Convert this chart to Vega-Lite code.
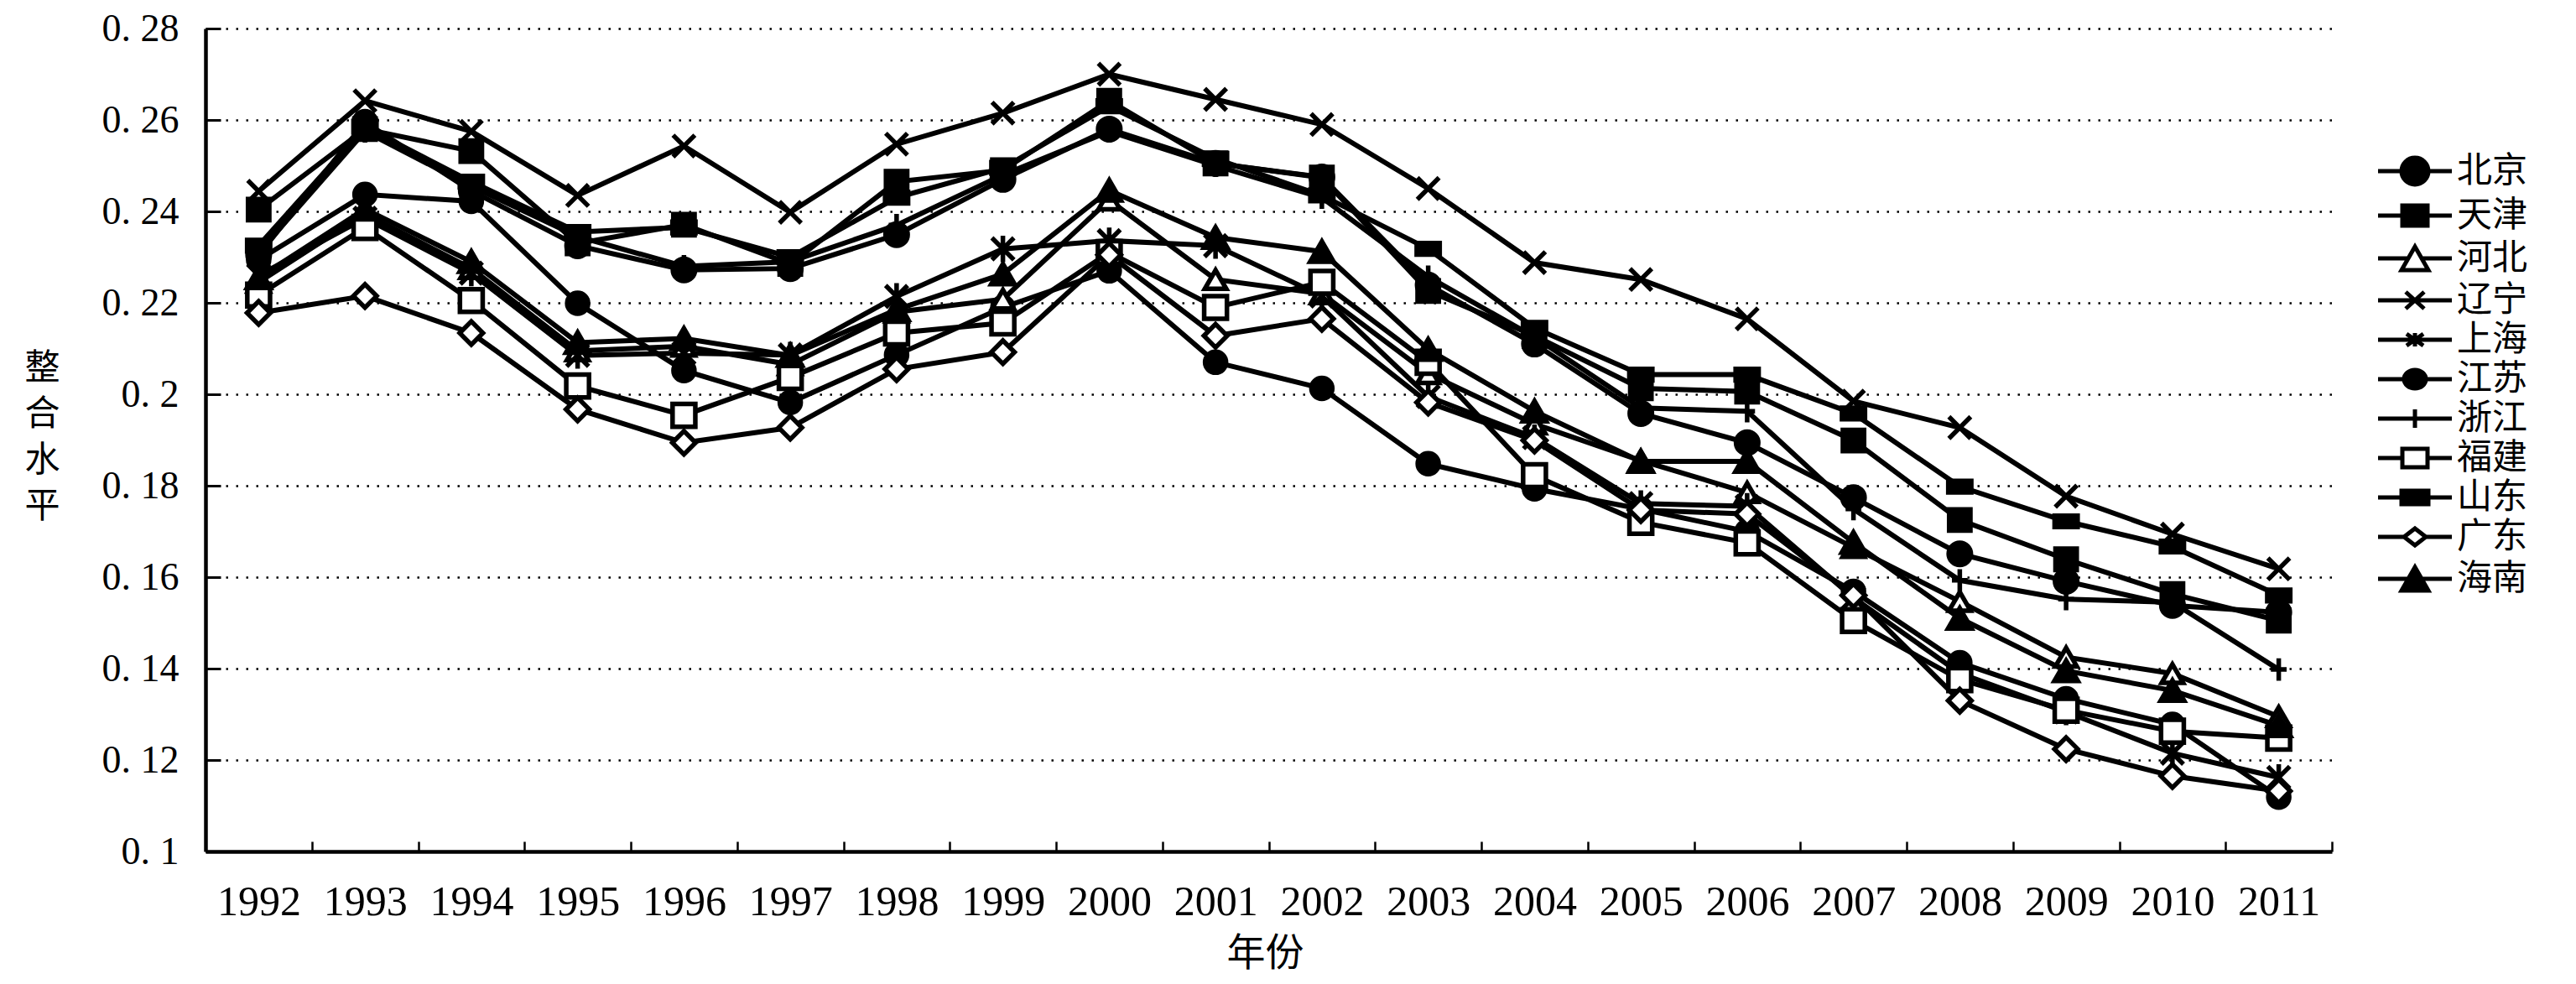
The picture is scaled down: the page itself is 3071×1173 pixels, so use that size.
{
"$schema": "https://vega.github.io/schema/vega-lite/v6.json",
"width": 2535, "height": 981,
"autosize": "none",
"padding": {"left": 245, "top": 34, "right": 291, "bottom": 158},
"background": "white",
"config": {"view": {"stroke": null}},
"datasets": {"d": [
{"p":"北京","y":1992,"v":0.2294},{"p":"北京","y":1993,"v":0.2437},{"p":"北京","y":1994,"v":0.2422},{"p":"北京","y":1995,"v":0.2199},{"p":"北京","y":1996,"v":0.2052},{"p":"北京","y":1997,"v":0.1982},{"p":"北京","y":1998,"v":0.2086},{"p":"北京","y":1999,"v":0.219},{"p":"北京","y":2000,"v":0.227},{"p":"北京","y":2001,"v":0.207},{"p":"北京","y":2002,"v":0.2013},{"p":"北京","y":2003,"v":0.1848},{"p":"北京","y":2004,"v":0.1793},{"p":"北京","y":2005,"v":0.1749},{"p":"北京","y":2006,"v":0.170},{"p":"北京","y":2007,"v":0.1569},{"p":"北京","y":2008,"v":0.1413},{"p":"北京","y":2009,"v":0.1334},{"p":"北京","y":2010,"v":0.1278},{"p":"北京","y":2011,"v":0.1119},
{"p":"天津","y":1992,"v":0.2404},{"p":"天津","y":1993,"v":0.258},{"p":"天津","y":1994,"v":0.2532},{"p":"天津","y":1995,"v":0.233},{"p":"天津","y":1996,"v":0.2371},{"p":"天津","y":1997,"v":0.2285},{"p":"天津","y":1998,"v":0.2465},{"p":"天津","y":1999,"v":0.249},{"p":"天津","y":2000,"v":0.2642},{"p":"天津","y":2001,"v":0.2505},{"p":"天津","y":2002,"v":0.2474},{"p":"天津","y":2003,"v":0.2226},{"p":"天津","y":2004,"v":0.2128},{"p":"天津","y":2005,"v":0.2013},{"p":"天津","y":2006,"v":0.2006},{"p":"天津","y":2007,"v":0.1899},{"p":"天津","y":2008,"v":0.1725},{"p":"天津","y":2009,"v":0.1639},{"p":"天津","y":2010,"v":0.1563},{"p":"天津","y":2011,"v":0.1505},
{"p":"河北","y":1992,"v":0.2245},{"p":"河北","y":1993,"v":0.2395},{"p":"河北","y":1994,"v":0.2275},{"p":"河北","y":1995,"v":0.2095},{"p":"河北","y":1996,"v":0.2105},{"p":"河北","y":1997,"v":0.2065},{"p":"河北","y":1998,"v":0.218},{"p":"河北","y":1999,"v":0.2208},{"p":"河北","y":2000,"v":0.2425},{"p":"河北","y":2001,"v":0.2251},{"p":"河北","y":2002,"v":0.222},{"p":"河北","y":2003,"v":0.2045},{"p":"河北","y":2004,"v":0.1935},{"p":"河北","y":2005,"v":0.1855},{"p":"河北","y":2006,"v":0.1785},{"p":"河北","y":2007,"v":0.1665},{"p":"河北","y":2008,"v":0.1547},{"p":"河北","y":2009,"v":0.1425},{"p":"河北","y":2010,"v":0.1389},{"p":"河北","y":2011,"v":0.1295},
{"p":"辽宁","y":1992,"v":0.2444},{"p":"辽宁","y":1993,"v":0.2642},{"p":"辽宁","y":1994,"v":0.2575},{"p":"辽宁","y":1995,"v":0.2435},{"p":"辽宁","y":1996,"v":0.2543},{"p":"辽宁","y":1997,"v":0.2398},{"p":"辽宁","y":1998,"v":0.2547},{"p":"辽宁","y":1999,"v":0.2615},{"p":"辽宁","y":2000,"v":0.27},{"p":"辽宁","y":2001,"v":0.2645},{"p":"辽宁","y":2002,"v":0.259},{"p":"辽宁","y":2003,"v":0.245},{"p":"辽宁","y":2004,"v":0.2288},{"p":"辽宁","y":2005,"v":0.2251},{"p":"辽宁","y":2006,"v":0.2165},{"p":"辽宁","y":2007,"v":0.1985},{"p":"辽宁","y":2008,"v":0.1927},{"p":"辽宁","y":2009,"v":0.1777},{"p":"辽宁","y":2010,"v":0.1694},{"p":"辽宁","y":2011,"v":0.1618},
{"p":"上海","y":1992,"v":0.226},{"p":"上海","y":1993,"v":0.2385},{"p":"上海","y":1994,"v":0.2265},{"p":"上海","y":1995,"v":0.2085},{"p":"上海","y":1996,"v":0.209},{"p":"上海","y":1997,"v":0.2086},{"p":"上海","y":1998,"v":0.2214},{"p":"上海","y":1999,"v":0.2318},{"p":"上海","y":2000,"v":0.2336},{"p":"上海","y":2001,"v":0.2325},{"p":"上海","y":2002,"v":0.2215},{"p":"上海","y":2003,"v":0.1995},{"p":"上海","y":2004,"v":0.1905},{"p":"上海","y":2005,"v":0.1761},{"p":"上海","y":2006,"v":0.1755},{"p":"上海","y":2007,"v":0.1555},{"p":"上海","y":2008,"v":0.139},{"p":"上海","y":2009,"v":0.1305},{"p":"上海","y":2010,"v":0.1215},{"p":"上海","y":2011,"v":0.1162},
{"p":"江苏","y":1992,"v":0.2305},{"p":"江苏","y":1993,"v":0.2595},{"p":"江苏","y":1994,"v":0.2445},{"p":"江苏","y":1995,"v":0.2325},{"p":"江苏","y":1996,"v":0.2272},{"p":"江苏","y":1997,"v":0.2275},{"p":"江苏","y":1998,"v":0.2349},{"p":"江苏","y":1999,"v":0.247},{"p":"江苏","y":2000,"v":0.258},{"p":"江苏","y":2001,"v":0.2505},{"p":"江苏","y":2002,"v":0.2475},{"p":"江苏","y":2003,"v":0.2239},{"p":"江苏","y":2004,"v":0.211},{"p":"江苏","y":2005,"v":0.1958},{"p":"江苏","y":2006,"v":0.1894},{"p":"江苏","y":2007,"v":0.1774},{"p":"江苏","y":2008,"v":0.1651},{"p":"江苏","y":2009,"v":0.1591},{"p":"江苏","y":2010,"v":0.1538},{"p":"江苏","y":2011,"v":0.1523},
{"p":"浙江","y":1992,"v":0.231},{"p":"浙江","y":1993,"v":0.2575},{"p":"浙江","y":1994,"v":0.2455},{"p":"浙江","y":1995,"v":0.2345},{"p":"浙江","y":1996,"v":0.228},{"p":"浙江","y":1997,"v":0.229},{"p":"浙江","y":1998,"v":0.237},{"p":"浙江","y":1999,"v":0.248},{"p":"浙江","y":2000,"v":0.2575},{"p":"浙江","y":2001,"v":0.25},{"p":"浙江","y":2002,"v":0.243},{"p":"浙江","y":2003,"v":0.2257},{"p":"浙江","y":2004,"v":0.2125},{"p":"浙江","y":2005,"v":0.197},{"p":"浙江","y":2006,"v":0.1963},{"p":"浙江","y":2007,"v":0.1749},{"p":"浙江","y":2008,"v":0.1593},{"p":"浙江","y":2009,"v":0.1552},{"p":"浙江","y":2010,"v":0.1545},{"p":"浙江","y":2011,"v":0.1398},
{"p":"福建","y":1992,"v":0.2217},{"p":"福建","y":1993,"v":0.2365},{"p":"福建","y":1994,"v":0.2205},{"p":"福建","y":1995,"v":0.2018},{"p":"福建","y":1996,"v":0.1954},{"p":"福建","y":1997,"v":0.2037},{"p":"福建","y":1998,"v":0.2134},{"p":"福建","y":1999,"v":0.2156},{"p":"福建","y":2000,"v":0.231},{"p":"福建","y":2001,"v":0.219},{"p":"福建","y":2002,"v":0.2245},{"p":"福建","y":2003,"v":0.207},{"p":"福建","y":2004,"v":0.1822},{"p":"福建","y":2005,"v":0.172},{"p":"福建","y":2006,"v":0.1675},{"p":"福建","y":2007,"v":0.1505},{"p":"福建","y":2008,"v":0.1376},{"p":"福建","y":2009,"v":0.1309},{"p":"福建","y":2010,"v":0.1263},{"p":"福建","y":2011,"v":0.1248},
{"p":"山东","y":1992,"v":0.2325},{"p":"山东","y":1993,"v":0.2585},{"p":"山东","y":1994,"v":0.2465},{"p":"山东","y":1995,"v":0.2355},{"p":"山东","y":1996,"v":0.2365},{"p":"山东","y":1997,"v":0.23},{"p":"山东","y":1998,"v":0.243},{"p":"山东","y":1999,"v":0.2495},{"p":"山东","y":2000,"v":0.263},{"p":"山东","y":2001,"v":0.2515},{"p":"山东","y":2002,"v":0.2435},{"p":"山东","y":2003,"v":0.2318},{"p":"山东","y":2004,"v":0.2145},{"p":"山东","y":2005,"v":0.2043},{"p":"山东","y":2006,"v":0.2043},{"p":"山东","y":2007,"v":0.1958},{"p":"山东","y":2008,"v":0.1798},{"p":"山东","y":2009,"v":0.1722},{"p":"山东","y":2010,"v":0.1667},{"p":"山东","y":2011,"v":0.156},
{"p":"广东","y":1992,"v":0.2178},{"p":"广东","y":1993,"v":0.2215},{"p":"广东","y":1994,"v":0.2134},{"p":"广东","y":1995,"v":0.1967},{"p":"广东","y":1996,"v":0.1894},{"p":"广东","y":1997,"v":0.1927},{"p":"广东","y":1998,"v":0.2055},{"p":"广东","y":1999,"v":0.2092},{"p":"广东","y":2000,"v":0.2305},{"p":"广东","y":2001,"v":0.2128},{"p":"广东","y":2002,"v":0.2165},{"p":"广东","y":2003,"v":0.1982},{"p":"广东","y":2004,"v":0.1899},{"p":"广东","y":2005,"v":0.1747},{"p":"广东","y":2006,"v":0.1738},{"p":"广东","y":2007,"v":0.156},{"p":"广东","y":2008,"v":0.133},{"p":"广东","y":2009,"v":0.1224},{"p":"广东","y":2010,"v":0.1165},{"p":"广东","y":2011,"v":0.1132},
{"p":"海南","y":1992,"v":0.2255},{"p":"海南","y":1993,"v":0.2405},{"p":"海南","y":1994,"v":0.229},{"p":"海南","y":1995,"v":0.2113},{"p":"海南","y":1996,"v":0.2122},{"p":"海南","y":1997,"v":0.2085},{"p":"海南","y":1998,"v":0.2185},{"p":"海南","y":1999,"v":0.2263},{"p":"海南","y":2000,"v":0.2446},{"p":"海南","y":2001,"v":0.2343},{"p":"海南","y":2002,"v":0.2312},{"p":"海南","y":2003,"v":0.2098},{"p":"海南","y":2004,"v":0.1963},{"p":"海南","y":2005,"v":0.1853},{"p":"海南","y":2006,"v":0.1853},{"p":"海南","y":2007,"v":0.1676},{"p":"海南","y":2008,"v":0.151},{"p":"海南","y":2009,"v":0.1395},{"p":"海南","y":2010,"v":0.1352},{"p":"海南","y":2011,"v":0.1275}
]},
"data": {"name": "d"},
"encoding": {
  "x": {"field": "y", "type": "ordinal", "scale": {"type": "point", "padding": 0.5},
    "axis": {"labelAngle": 0, "labelFont": "Liberation Serif", "labelFontSize": 50, "labelColor": "black", "labelPadding": 47,
      "tickSize": -12, "tickWidth": 2.5, "tickColor": "black", "tickOffset": 63.375, "labelOffset": -63.375,
      "domainColor": "black", "domainWidth": 4.5, "grid": false,
      "title": "年份", "titleFont": "Noto Sans CJK SC", "titleFontSize": 46, "titleFontWeight": "normal", "titleColor": "black",
      "titleX": 1263, "titleY": 121, "titleAlign": "center", "titleBaseline": "middle"}},
  "y": {"field": "v", "type": "quantitative", "scale": {"domain": [0.1, 0.28], "nice": false, "zero": false},
    "axis": {"values": [0.1, 0.12, 0.14, 0.16, 0.18, 0.2, 0.22, 0.24, 0.26, 0.28],
      "labelExpr": "replace(format(datum.value, '.2~f'), '.', '. ')",
      "labelFont": "Liberation Serif", "labelFontSize": 46, "labelColor": "black", "labelPadding": 50,
      "tickSize": -18, "tickWidth": 3, "tickColor": "black", "domainColor": "black", "domainWidth": 4.5,
      "grid": true, "gridColor": "black", "gridWidth": 2.5, "gridDash": [2.5, 9.5],
      "title": ["整", "合", "水", "平"], "titleAngle": 0, "titleFont": "Noto Sans CJK SC", "titleFontSize": 42,
      "titleFontWeight": "normal", "titleColor": "black", "titleLineHeight": 55,
      "titleX": -195, "titleY": 384, "titleAlign": "center", "titleBaseline": "top"}}
},
"resolve": {"scale": {"shape": "independent", "fill": "independent", "size": "independent", "stroke": "independent"}},
"layer": [
  {"mark": {"type": "line", "color": "black", "strokeWidth": 6},
   "encoding": {"detail": {"field": "p"}}},
  {"mark": {"type": "point", "filled": true, "stroke": "black", "strokeWidth": 5.5, "opacity": 1},
   "encoding": {
     "fill": {"field": "p", "type": "nominal",
       "scale": {"domain": ["海南","广东","山东","福建","浙江","江苏","上海","辽宁","河北","天津","北京"],
         "range": ["black","white","black","white","black","black","black","black","white","black","black"]},
       "legend": null},
     "shape": {"field": "p", "type": "nominal",
       "scale": {"domain": ["海南","广东","山东","福建","浙江","江苏","上海","辽宁","河北","天津","北京"],
         "range": ["triangle-up","diamond","M-1,-0.5H1V0.5H-1Z","square","M0,-1V1M-0.7,0H0.7","circle","M-1,-1L1,1M-1,1L1,-1M0,-1.2L0,1.2","M-1,-1L1,1M-1,1L1,-1","triangle-up","square","circle"]},
       "legend": null},
     "size": {"field": "p", "type": "nominal",
       "scale": {"domain": ["海南","广东","山东","福建","浙江","江苏","上海","辽宁","河北","天津","北京"],
         "range": [784, 625, 729, 529, 484, 576, 484, 576, 784, 625, 1000]},
       "legend": null}
   }},
  {"transform": [{"filter": "datum.v > 1"}],
   "mark": {"type": "point", "filled": true, "stroke": "black", "strokeWidth": 5, "opacity": 1},
   "encoding": {
     "shape": {"field": "p", "type": "nominal",
       "scale": {"domain": ["北京","天津","河北","辽宁","上海","江苏","浙江","福建","山东","广东","海南"],
         "range": ["M-4.4,0H-1.6M1.6,0H4.4M-1.6,0A1.6,1.6 0 1,0 1.6,0A1.6,1.6 0 1,0 -1.6,0Z","M-4.4,0H-1.5M1.5,0H4.4M-1.5,-1.2H1.5V1.2H-1.5Z","M-4.4,0H-0.8M0.8,0H4.4M0,-1.4L1.6,1.4H-1.6Z","M-4.4,0H4.4M-1.1,-1L1.1,1M-1.1,1L1.1,-1","M-4.4,0H4.4M-1,-0.7L1,0.7M-1,0.7L1,-0.7M0,-0.8V0.8","M-4.4,0H-1.3M1.3,0H4.4M-1.3,0A1.3,1.1 0 1,0 1.3,0A1.3,1.1 0 1,0 -1.3,0Z","M-4.4,0H4.4M0,-1.1V1.1","M-4.4,0H-1.5M1.5,0H4.4M-1.5,-1.1H1.5V1.1H-1.5Z","M-4.4,0H4.4M-1.6,-0.8H1.6V0.8H-1.6Z","M-4.4,0H-1.3M1.3,0H4.4M-1.3,0L0,-1L1.3,0L0,1Z","M-4.4,0H4.4M0,-1.4L1.6,1.4H-1.6Z"]},
       "legend": {"orient": "none", "legendX": 2613, "legendY": 149, "title": null, "padding": 0,
         "symbolSize": 400, "symbolStrokeWidth": 5, "symbolStrokeColor": "black", "labelFont": "Noto Sans CJK SC", "labelFontSize": 42,
         "labelColor": "black", "labelOffset": 29, "rowPadding": 5, "labelLimit": 0}},
     "fill": {"field": "p", "type": "nominal",
       "scale": {"domain": ["北京","天津","河北","辽宁","上海","江苏","浙江","福建","山东","广东","海南"],
         "range": ["black","black","white","black","black","black","black","white","black","white","black"]},
       "legend": {"orient": "none", "legendX": 2613, "legendY": 149, "title": null, "padding": 0,
         "symbolSize": 400, "symbolStrokeWidth": 5, "symbolStrokeColor": "black", "labelFont": "Noto Sans CJK SC", "labelFontSize": 42,
         "labelColor": "black", "labelOffset": 29, "rowPadding": 5, "labelLimit": 0}},
     "stroke": {"field": "p", "type": "nominal",
       "scale": {"domain": ["北京","天津","河北","辽宁","上海","江苏","浙江","福建","山东","广东","海南"],
         "range": ["black","black","black","black","black","black","black","black","black","black","black"]},
       "legend": {"orient": "none", "legendX": 2613, "legendY": 149, "title": null, "padding": 0,
         "symbolSize": 400, "symbolStrokeWidth": 5, "symbolStrokeColor": "black", "labelFont": "Noto Sans CJK SC", "labelFontSize": 42,
         "labelColor": "black", "labelOffset": 29, "rowPadding": 5, "labelLimit": 0}}
   }}
]
}
